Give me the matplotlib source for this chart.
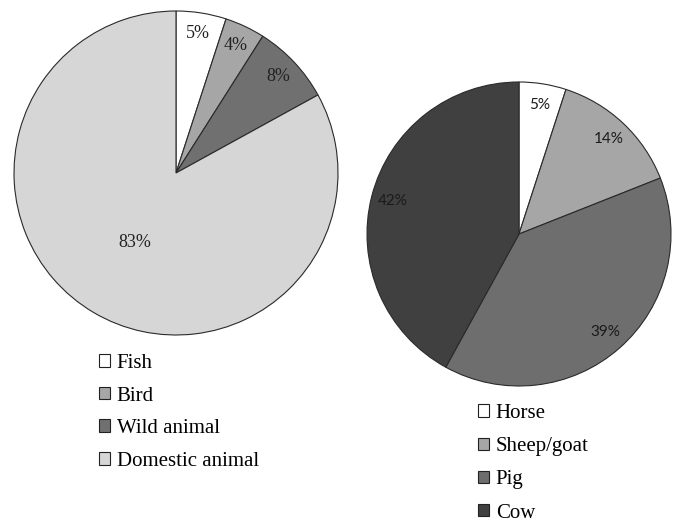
import numpy as np
import matplotlib
matplotlib.use("Agg")
import matplotlib.pyplot as plt
from matplotlib.patches import Patch

# 数据
src_labels = ["Fish", "Bird", "Wild animal", "Domestic animal"]
src_values = [5, 4, 8, 83]
src_colors = ["#ffffff", "#a6a6a6", "#707070", "#d6d6d6"]

dom_labels = ["Horse", "Sheep/goat", "Pig", "Cow"]
dom_values = [5, 14, 39, 42]
dom_colors = ["#ffffff", "#a6a6a6", "#6e6e6e", "#404040"]

fig = plt.figure(figsize=(6.8, 5.22), dpi=100)

wp = {"edgecolor": "#2a2a2a", "linewidth": 0.8}

# 左边的饼图
ax1 = fig.add_axes([14/680, 1-335/522, 324/680, 324/522])
w1, t1, a1 = ax1.pie(src_values, colors=src_colors, startangle=90, counterclock=False,
                     autopct="%1.0f%%", pctdistance=0.87, wedgeprops=wp,
                     textprops={"fontsize": 13, "family": "Liberation Serif", "color": "#222222"})
# 83% 放靠近圆心
w = w1[3]
mid = np.deg2rad((w.theta1 + w.theta2) / 2)
a1[3].set_position((0.5*np.cos(mid), 0.5*np.sin(mid)))
ax1.set_xlim(-1, 1)
ax1.set_ylim(-1, 1)
for p in w1:
    p.set_clip_on(False)

# 右边的饼图
ax2 = fig.add_axes([367/680, 1-386/522, 304/680, 304/522])
w2, t2, a2 = ax2.pie(dom_values, colors=dom_colors, startangle=90, counterclock=False,
                     autopct="%1.0f%%", pctdistance=0.86, wedgeprops=wp,
                     textprops={"fontsize": 11, "family": "Lato", "color": "#1a1a1a"})
ax2.set_xlim(-1, 1)
ax2.set_ylim(-1, 1)
for p in w2:
    p.set_clip_on(False)

def make_legend(labels, colors, x, y, spacing):
    handles = [Patch(facecolor=c, edgecolor="#222222", linewidth=0.8) for c in colors]
    fig.legend(handles, labels, loc="upper left", bbox_to_anchor=(x, y),
               bbox_transform=fig.transFigure, frameon=False, borderpad=0,
               borderaxespad=0, handlelength=0.55, handleheight=0.55,
               handletextpad=0.3, labelspacing=spacing,
               prop={"family": "Liberation Serif", "size": 15})

make_legend(src_labels, src_colors, 99/680, 1-354/522, 0.65)
make_legend(dom_labels, dom_colors, 478/680, 1-404/522, 0.68)

plt.savefig("out.png", dpi=100)
